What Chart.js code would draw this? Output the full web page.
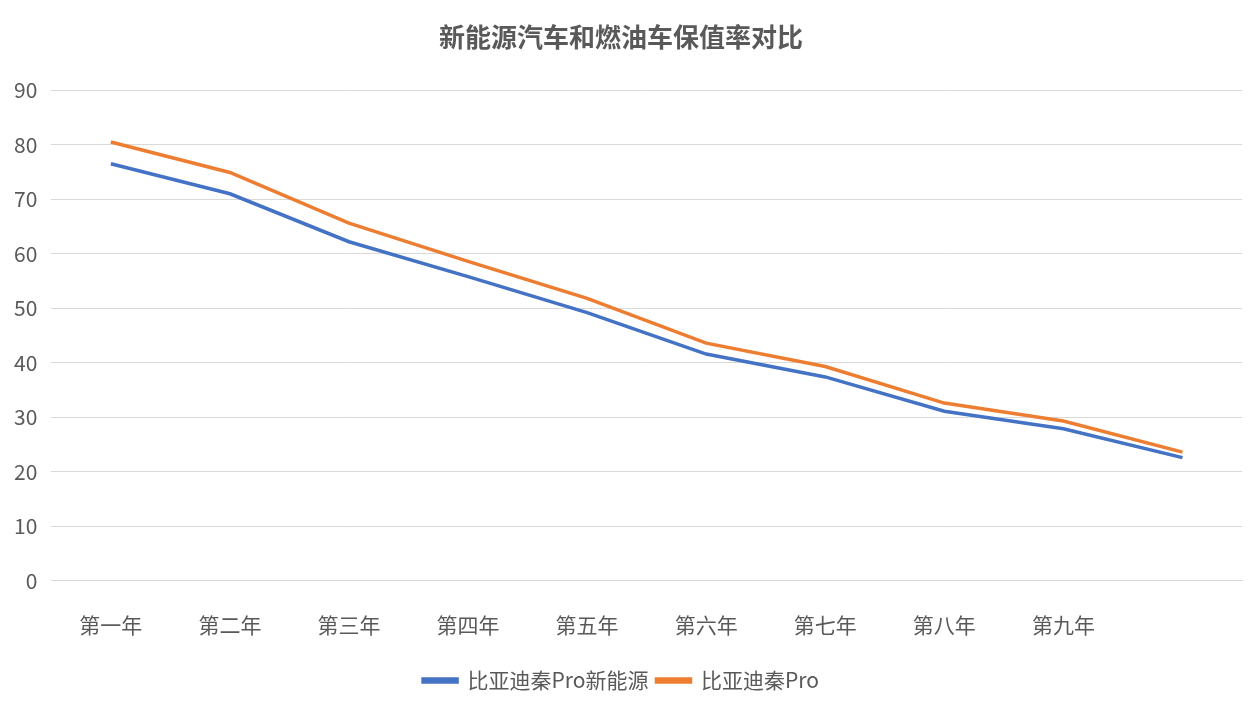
<!DOCTYPE html>
<html>
<head>
<meta charset="utf-8">
<script src="https://cdn.jsdelivr.net/npm/chart.js@4"></script>
<style>
  html, body { margin: 0; background: #fff; }
  #wrap { width: 1260px; height: 712px; }
</style>
</head>
<body>
<div id="wrap"><canvas id="chart" width="1260" height="712"></canvas></div>
<script>
const labels = ["第一年", "第二年", "第三年", "第四年", "第五年", "第六年", "第七年", "第八年", "第九年", ""];
const evData = [76.5, 71, 62.2, 55.8, 49.2, 41.6, 37.4, 31.1, 27.9, 22.6];
const fuelData = [80.5, 74.9, 65.6, 58.6, 51.8, 43.6, 39.3, 32.6, 29.3, 23.6];

const font = "'Noto Sans CJK SC', 'Open Sans', sans-serif";

new Chart(document.getElementById("chart").getContext("2d"), {
  type: "line",
  data: {
    labels: labels,
    datasets: [
      {
        label: "比亚迪秦Pro新能源",
        data: evData,
        borderColor: "#4472c4",
        backgroundColor: "#4472c4",
        borderWidth: 3.5,
        pointRadius: 0,
        tension: 0
      },
      {
        label: "比亚迪秦Pro",
        data: fuelData,
        borderColor: "#ed7d31",
        backgroundColor: "#ed7d31",
        borderWidth: 3.5,
        pointRadius: 0,
        tension: 0
      }
    ]
  },
  options: {
    responsive: false,
    animation: false,
    layout: { padding: { left: 0, right: 18, top: 8, bottom: 11 } },
    plugins: {
      title: {
        display: true,
        text: "新能源汽车和燃油车保值率对比",
        color: "#595959",
        font: { family: font, size: 26, weight: "bold" },
        padding: { top: 14, bottom: 37 }
      },
      legend: {
        position: "bottom",
        labels: {
          color: "#595959",
          font: { family: font, size: 21 },
          boxWidth: 34,
          boxHeight: 3,
          padding: 8
        }
      }
    },
    scales: {
      x: {
        offset: true,
        grid: { display: false },
        border: { color: "#d9d9d9" },
        ticks: { color: "#595959", font: { family: font, size: 21 }, padding: 24, maxRotation: 0, autoSkip: false }
      },
      y: {
        min: 0,
        max: 90,
        ticks: { stepSize: 10, color: "#595959", font: { family: font, size: 21 }, padding: 14 },
        grid: { color: "#d9d9d9", drawTicks: false },
        border: { display: false }
      }
    }
  }
});
</script>
</body>
</html>
